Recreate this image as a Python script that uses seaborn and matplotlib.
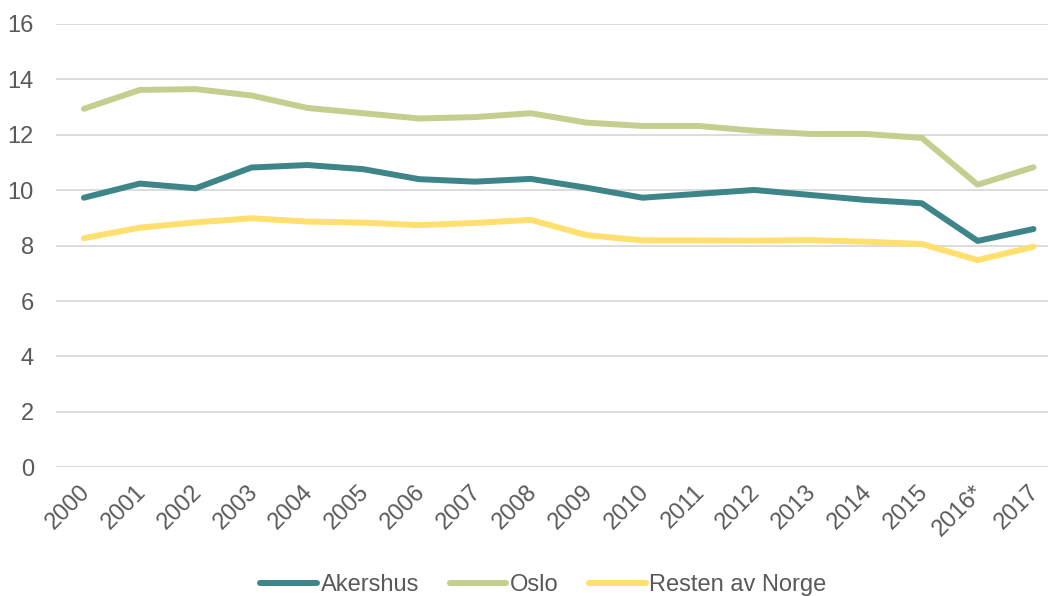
import matplotlib
matplotlib.use("Agg")
import matplotlib.pyplot as plt
import matplotlib.transforms as mtransforms
import pandas as pd
import seaborn as sns

years = ["2000", "2001", "2002", "2003", "2004", "2005", "2006", "2007", "2008",
         "2009", "2010", "2011", "2012", "2013", "2014", "2015", "2016*", "2017"]
akershus = [9.73, 10.24, 10.07, 10.82, 10.91, 10.76, 10.40, 10.31, 10.41,
            10.09, 9.73, 9.87, 10.01, 9.83, 9.65, 9.53, 8.17, 8.60]
oslo = [12.94, 13.62, 13.65, 13.42, 12.97, 12.78, 12.59, 12.64, 12.78,
        12.44, 12.32, 12.32, 12.15, 12.03, 12.03, 11.89, 10.20, 10.83]
resten = [8.27, 8.65, 8.84, 8.99, 8.87, 8.83, 8.74, 8.82, 8.93,
          8.38, 8.19, 8.19, 8.18, 8.20, 8.14, 8.06, 7.48, 7.96]
series_names = ["Akershus", "Oslo", "Resten av Norge"]
colors = ["#3E8589", "#C5CE8E", "#FFDF6E"]

df = pd.DataFrame({"year": years, "Akershus": akershus, "Oslo": oslo,
                   "Resten av Norge": resten})
long = df.melt(id_vars="year", var_name="serie", value_name="verdi")

sns.set_style("white")
plt.rcParams["font.family"] = ["Liberation Sans", "DejaVu Sans"]
text_col = "#595959"
fs = 17

fig = plt.figure(figsize=(10.48, 5.96), dpi=100)
ax = fig.add_axes([56 / 1048, 1 - 467.3 / 596, 1 - 56 / 1048, (467.3 - 24) / 596])

sns.lineplot(data=long, x="year", y="verdi", hue="serie", hue_order=series_names,
             palette=colors, linewidth=4.3, sort=False, ax=ax, legend=False)

ax.set_ylim(0, 16)
ax.set_yticks(range(0, 17, 2))
ax.set_xlim(-0.5, 17.26)
ax.yaxis.grid(True, color="#D9D9D9", linewidth=1.3)
ax.set_axisbelow(True)
for s in ax.spines.values():
    s.set_visible(False)
ax.set_xlabel("")
ax.set_ylabel("")
ax.tick_params(axis="both", length=0, labelsize=fs, labelcolor=text_col)
ax.tick_params(axis="y", pad=16)
ax.tick_params(axis="x", pad=10)
shift = mtransforms.ScaledTranslation(-5 / 100, 0, fig.dpi_scale_trans)
for lbl in ax.get_xticklabels():
    lbl.set_rotation(45)
    lbl.set_ha("right")
    lbl.set_va("top")
    lbl.set_rotation_mode("anchor")
    lbl.set_transform(lbl.get_transform() + shift)

handles = [plt.Line2D([], [], color=c, linewidth=4.3, solid_capstyle="round") for c in colors]
fig.legend(handles, series_names, loc="center", bbox_to_anchor=(0.5186, 1 - 585 / 596),
           ncol=3, frameon=False, fontsize=fs, handlelength=2.4, handletextpad=0.15,
           columnspacing=1.3, labelcolor=text_col)

fig.savefig("out.png", dpi=100)
